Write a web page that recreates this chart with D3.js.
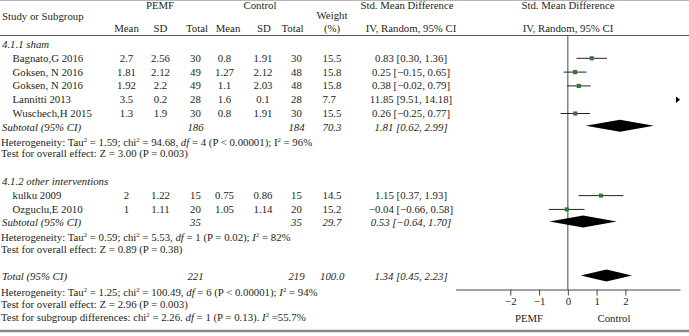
<!DOCTYPE html>
<html><head><meta charset="utf-8">
<script src="https://cdn.jsdelivr.net/npm/d3@7"></script>
<style>
html,body{margin:0;padding:0;background:#fff;}
svg{display:block;}
text{font-family:"Liberation Serif","Times New Roman",serif;fill:#231f20;}
</style></head>
<body><svg id="c" width="689" height="336"></svg>
<script>
// ---------- data ----------
const studies   = ["Bagnato,G 2016","Goksen, N 2016","Goksen, N 2016","Lannitti 2013","Wuschech,H 2015","kulku 2009","Ozguclu,E 2010"];
const groupOf   = [0,0,0,0,0,1,1];
const groupNames = ["4.1.1 sham","4.1.2 other interventions"];
const pemfMean  = ["2.7","1.81","1.92","3.5","1.3","2","1"];
const pemfSD    = ["2.56","2.12","2.2","0.2","1.9","1.22","1.11"];
const pemfN     = [30,49,49,28,30,15,20];
const ctrlMean  = ["0.8","1.27","1.1","1.6","0.8","0.75","1.05"];
const ctrlSD    = ["1.91","2.12","2.03","0.1","1.91","0.86","1.14"];
const ctrlN     = [30,48,48,28,30,15,20];
const weights   = [15.5,15.8,15.8,7.7,15.5,14.5,15.2];
const smd       = [0.83,0.25,0.38,11.85,0.26,1.15,-0.04];
const ciLow     = [0.30,-0.15,-0.02,9.51,-0.25,0.37,-0.66];
const ciHigh    = [1.36,0.65,0.79,14.18,0.77,1.93,0.58];
const subN1     = [186,35];
const subN2     = [184,35];
const subW      = [70.3,29.7];
const subSmd    = [1.81,0.53];
const subLow    = [0.62,-0.64];
const subHigh   = [2.99,1.70];
const totN1 = 221, totN2 = 219, totW = 100.0, totSmd = 1.34, totLow = 0.45, totHigh = 2.23;
const subHet = ["Heterogeneity: Tau{2} = 1.59; chi{2} = 94.68, _df_ = 4 (P < 0.00001); I{2} = 96%",
                "Heterogeneity: Tau{2} = 0.59; chi{2} = 5.53, _df_ = 1 (P = 0.02); _I_{2} = 82%"];
const subTest = ["Test for overall effect: Z = 3.00 (P = 0.003)","Test for overall effect: Z = 0.89 (P = 0.38)"];
const totHet  = "Heterogeneity: Tau{2} = 1.25; chi{2} = 100.49, _df_ = 6 (P < 0.00001); _I_{2} = 94%";
const totTest = "Test for overall effect: Z = 2.96 (P = 0.003)";
const subgroupTest = "Test for subgroup differences: chi{2} = 2.26. _df_ = 1 (P = 0.13). _I_{2} =55.7%";
const axisTicks = [-2,-1,0,1,2];
const axisDomain = [-3.9,3.9];
const favourLeft = "PEMF", favourRight = "Control";

// ---------- layout ----------
const FS = 10.8;
const svg = d3.select("#c");
const y = d3.scaleLinear().domain([0,1]).range([44.3,58.1]);
const groupRows = [
  {head:0, studyStart:1, sub:6, het:7.1, test:7.93},
  {head:9.95, studyStart:10.95, sub:12.93, het:14.0, test:14.83}
];
const totRow = 16.85, totHetRow = 17.95, totTestRow = 18.83, sgRow = 19.77;
const col = {name:2, study:12.5, m1:126.5, s1:160.5, n1:195.5, m2:224.5, s2:263, n2:296.5, w:322.5, ci:411};
const x = d3.scaleLinear().domain(axisDomain).range([455.7,680]);

const fmt2 = v => (v<0?"\u2212":"") + Math.abs(v).toFixed(2);
const ciText = (e,l,h) => `${fmt2(e)} [${fmt2(l)}, ${fmt2(h)}]`;

function txt(xp, yp, s, opt={}) {
  const fs = opt.fs||FS;
  const t = svg.append("text").attr("x",xp).attr("y",yp+3.6)
    .attr("font-size",fs).attr("text-anchor",opt.anchor||"start");
  if (opt.italic) t.attr("font-style","italic");
  const parts = s.split(/(\{[^}]*\}|_[^_]*_)/).filter(p=>p.length);
  let pend = 0;
  parts.forEach(p=>{
    let ts;
    if (p[0]==="{") {
      ts = t.append("tspan").attr("font-size",fs*0.62).attr("dy",pend-4).text(p.slice(1,-1));
      pend = 4; return;
    }
    if (p[0]==="_") ts = t.append("tspan").attr("font-style","italic").text(p.slice(1,-1));
    else ts = t.append("tspan").text(p);
    if (pend) { ts.attr("dy",pend); pend = 0; }
  });
  return t;
}

// border lines
svg.append("line").attr("x1",0).attr("x2",689).attr("y1",0.5).attr("y2",0.5).attr("stroke","#b5b5b5").attr("stroke-width",1.2);
svg.append("line").attr("x1",0).attr("x2",689).attr("y1",35.5).attr("y2",35.5).attr("stroke","#555").attr("stroke-width",1);
svg.append("line").attr("x1",0).attr("x2",689).attr("y1",331).attr("y2",331).attr("stroke","#8a8a8a").attr("stroke-width",2.5);

// headers
txt(col.name,16,"Study or Subgroup");
txt(160,5.5,"PEMF",{anchor:"middle"});
txt(260,5.5,"Control",{anchor:"middle"});
txt(col.m1,28,"Mean",{anchor:"middle"});
txt(col.s1,28,"SD",{anchor:"middle"});
txt(197,28,"Total",{anchor:"middle"});
txt(228,28,"Mean",{anchor:"middle"});
txt(264,28,"SD",{anchor:"middle"});
txt(292.5,28,"Total",{anchor:"middle"});
txt(332,15,"Weight",{anchor:"middle"});
txt(332,28,"(%)",{anchor:"middle"});
txt(407,5.5,"Std. Mean Difference",{anchor:"middle"});
txt(411,28,"IV, Random, 95% CI",{anchor:"middle"});
txt(568,5.5,"Std. Mean Difference",{anchor:"middle"});
txt(568,28,"IV, Random, 95% CI",{anchor:"middle"});

// zero line
svg.append("line").attr("x1",x(0)).attr("x2",x(0)).attr("y1",35.5).attr("y2",289.5).attr("stroke","#444").attr("stroke-width",1);

const sq = d3.scaleSqrt().domain([0,16]).range([0,4.2]);

function diamond(row, e, l, h) {
  const yc = y(row)-1.3, hh = 6;
  svg.append("path").attr("d",`M${x(l)},${yc}L${x(e)},${yc-hh}L${x(h)},${yc}L${x(e)},${yc+hh}Z`).attr("fill","#000");
}

groupRows.forEach((g,gi)=>{
  txt(col.name,y(g.head),groupNames[gi],{italic:true});
  const idx = studies.map((s,i)=>i).filter(i=>groupOf[i]===gi);
  idx.forEach((i,k)=>{
    const yy = y(g.studyStart+k);
    txt(col.study,yy,studies[i]);
    txt(col.m1,yy,pemfMean[i],{anchor:"middle"});
    txt(col.s1,yy,pemfSD[i],{anchor:"middle"});
    txt(col.n1,yy,String(pemfN[i]),{anchor:"middle"});
    txt(col.m2,yy,ctrlMean[i],{anchor:"middle"});
    txt(col.s2,yy,ctrlSD[i],{anchor:"middle"});
    txt(col.n2,yy,String(ctrlN[i]),{anchor:"middle"});
    txt(col.w,yy,weights[i].toFixed(1));
    txt(col.ci,yy,ciText(smd[i],ciLow[i],ciHigh[i]),{anchor:"middle"});
    const py = yy+0.2;
    const [d0,d1] = axisDomain;
    const lo = Math.max(ciLow[i],d0), hi = Math.min(ciHigh[i],d1);
    if (lo < hi) {
      svg.append("line").attr("x1",x(lo)).attr("x2",x(hi)).attr("y1",py).attr("y2",py).attr("stroke","#222").attr("stroke-width",1);
    }
    if (smd[i] >= d0 && smd[i] <= d1) {
      const s = sq(weights[i]);
      svg.append("rect").attr("x",x(smd[i])-s/2).attr("y",py-s/2).attr("width",s).attr("height",s).attr("fill","#2d7a2d");
    }
    if (ciLow[i] > d1) {
      const tip = x(d1);
      svg.append("path").attr("d",`M${tip-4},${py-3.2}L${tip},${py}L${tip-4},${py+3.2}Z`).attr("fill","#000");
    }
  });
  const ys = y(g.sub);
  txt(col.name,ys,"Subtotal (95% CI)",{italic:true});
  txt(col.n1,ys,String(subN1[gi]),{anchor:"middle",italic:true});
  txt(col.n2,ys,String(subN2[gi]),{anchor:"middle",italic:true});
  txt(col.w,ys,subW[gi].toFixed(1),{italic:true});
  txt(col.ci,ys,ciText(subSmd[gi],subLow[gi],subHigh[gi]),{anchor:"middle",italic:true});
  diamond(g.sub, subSmd[gi], subLow[gi], subHigh[gi]);
  txt(1,y(g.het),subHet[gi]);
  txt(1,y(g.test),subTest[gi]);
});

const yt = y(totRow);
txt(col.name,yt,"Total (95% CI)",{italic:true});
txt(col.n1,yt,String(totN1),{anchor:"middle",italic:true});
txt(col.n2,yt,String(totN2),{anchor:"middle",italic:true});
txt(col.w-2.5,yt,totW.toFixed(1),{italic:true});
txt(col.ci,yt,ciText(totSmd,totLow,totHigh),{anchor:"middle",italic:true});
diamond(totRow,totSmd,totLow,totHigh);
txt(1,y(totHetRow),totHet);
txt(1,y(totTestRow),totTest);
txt(1,y(sgRow),subgroupTest);

// axis
const ax = svg.append("g").attr("transform","translate(0,289.5)")
  .call(d3.axisBottom(x).tickValues(axisTicks).tickSize(6).tickSizeOuter(0).tickPadding(2));
ax.select(".domain").attr("stroke","#444");
ax.selectAll(".tick line").attr("stroke","#444");
ax.selectAll(".tick text").attr("font-family","Liberation Serif, serif").attr("font-size",FS).attr("fill","#231f20");
txt(529,318,favourLeft,{anchor:"middle"});
txt(614,318,favourRight,{anchor:"middle"});
</script></body></html>
